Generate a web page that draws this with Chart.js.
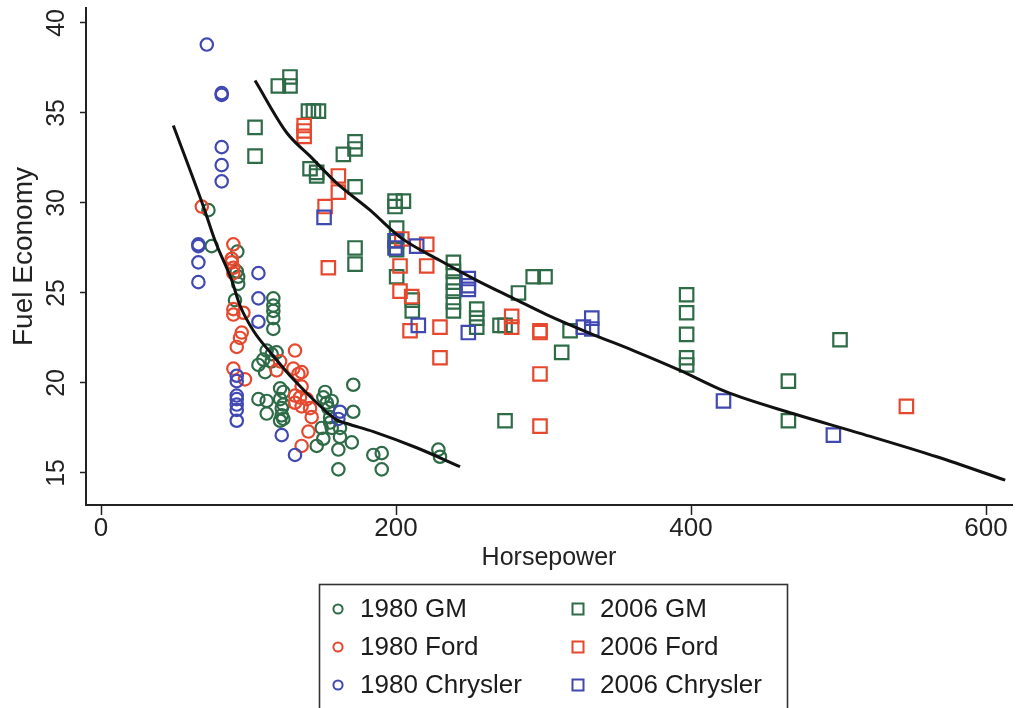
<!DOCTYPE html>
<html><head><meta charset="utf-8">
<script src="https://cdn.jsdelivr.net/npm/chart.js@4.4.1/dist/chart.umd.min.js"></script>
<style>html,body{margin:0;padding:0;background:#fff;} canvas{display:block;}</style>
</head><body>
<canvas id="c" width="1016" height="708"></canvas>
<script>
// ---------------- data ----------------
const seriesNames = ['1980 GM', '2006 GM', '1980 Ford', '2006 Ford', '1980 Chrysler', '2006 Chrysler'];
const xTicks = [0, 200, 400, 600];
const yTicks = [15, 20, 25, 30, 35, 40];

const gm1980HP  = [72.8,75,92.4,92,93,93,90.8,116.8,116.8,116.8,116.8,116.8,112.3,115.7,110,106.7,111.2,115.7,119,121.4,123.6,106.7,112.3,112.3,121.4,122.5,122.5,123.6,121.4,123.6,151.9,150.7,156.4,154.1,153,155.3,155.3,156.4,162,162,149.6,150.7,146.2,171,171,170,160.9,160.9,184.6,190.3,190.3,228.7,229.8];
const gm1980MPG = [29.6,27.6,27.3,26.2,25.9,25.5,24.6,24.7,24.3,24.0,23.6,23.0,21.8,21.6,21.3,21.0,20.6,21.2,21.7,19.7,19.5,19.1,19.0,18.3,19.1,18.6,18.2,18.0,17.9,18.8,19.5,19.2,19.0,18.6,18.9,18.1,17.8,17.5,17.5,17.0,17.5,16.9,16.5,19.9,18.4,16.7,16.3,15.2,16.0,16.1,15.2,16.3,15.9];

const ford1980HP  = [68.3,89.7,88.6,88.6,89.7,89.7,89.7,89.7,96.5,95.4,94.2,92,89.7,97.6,131.5,121.4,119,130.4,136,133.8,136,131.5,134.9,131.5,139.5,141.7,136,142.8,140.6,136];
const ford1980MPG = [29.8,27.7,26.9,26.7,26.4,26.1,24.1,23.8,23.9,22.8,22.5,22.0,20.8,20.2,21.8,21.2,20.7,20.8,20.6,20.5,19.8,19.3,19.2,18.9,19.1,18.6,18.7,18.1,17.3,16.5];

const chry1980HP  = [71.7,81.8,81.8,81.8,81.8,81.8,66,66,66,66,106.7,106.7,106.7,92,92,92,92,92,92,92,122.5,131.5,162,160.9];
const chry1980MPG = [38.8,36.1,36.0,33.1,32.1,31.2,27.7,27.6,26.7,25.6,26.1,24.7,23.4,20.4,20.1,19.3,19.1,18.8,18.5,17.9,17.1,16.0,18.4,18.0];

const gm2006HP  = [104.4,104.4,120.2,128.1,128.1,140.6,144,147.4,141.7,146.2,146.2,164.3,172.2,172.2,172.2,199.3,205,199.3,200.4,200.4,200.4,172.2,172.2,200.4,211,211,238.9,238.9,238.9,238.9,238.9,238.9,254.7,254.7,254.7,270.5,293,301,283,273.9,318,312.3,273.9,397,397,397,397,397,466,466,501];
const gm2006MPG = [34.2,32.6,36.5,36.5,37.0,35.1,35.1,35.1,31.9,31.7,31.5,32.7,33.0,33.4,30.9,30.1,30.1,29.8,28.6,27.9,27.4,27.5,26.6,25.9,24.6,24.0,26.7,26.2,25.6,25.1,24.5,24.0,24.1,23.6,23.1,23.2,25.9,25.9,25.0,23.2,22.9,21.7,17.9,24.9,23.9,22.7,21.4,21.0,20.1,17.9,22.4];

const ford2006HP  = [137.7,137.7,137.7,160.9,160.9,151.9,154.1,203.9,220.8,202.7,220.8,202.7,210.6,209.5,229.8,229.8,278.4,278.4,297.6,297.6,297.6,297.6,546];
const ford2006MPG = [34.3,34.0,33.7,31.5,30.6,29.8,26.4,28.0,27.7,26.5,26.5,25.1,24.8,22.9,23.1,21.4,23.7,23.1,22.9,22.8,20.5,17.6,18.7];

const chry2006HP  = [151.2,199.3,199.3,214,215.1,249,249,249,249,327,332.7,332.7,422,496.5];
const chry2006MPG = [29.2,27.9,27.5,27.6,23.2,25.8,25.4,25.2,22.8,23.1,23.6,23.0,19.0,17.1];

// smoothed (lowess) fit lines
const fit1980HP  = [49,69.4,77.3,88.6,94.2,103.3,116.8,130.4,146.2,159.8,166.6,184.6,214,243.4];
const fit1980MPG = [34.3,29.8,27.9,25.7,24.3,22.9,21.5,20.2,18.9,17.95,17.75,17.3,16.4,15.35];
const fit2006HP  = [104.4,125.9,141.7,159.8,182.4,202.7,229.8,254.7,279.5,302,331.5,360.9,392.5,424,469,514.6,566.6,613];
const fit2006MPG = [36.8,33.9,32.6,31.1,29.6,28.1,26.8,25.7,24.7,23.8,22.76,21.8,20.7,19.5,18.3,17.2,15.9,14.6];

// ---------------- styles ----------------
const GREEN = '#2e6b47', RED = '#e6482e', BLUE = '#4048b2';
const pts = (xs, ys) => xs.map((x, i) => ({x: x, y: ys[i]}));

function fontAvailable(name) {
  const c = document.createElement('canvas').getContext('2d');
  const s = 'Horsepower 0123456789 mmmWWWiii';
  c.font = '40px monospace'; const w1 = c.measureText(s).width;
  c.font = '40px "' + name + '", monospace'; const w2 = c.measureText(s).width;
  c.font = '40px serif'; const w3 = c.measureText(s).width;
  c.font = '40px "' + name + '", serif'; const w4 = c.measureText(s).width;
  return w1 !== w2 || w3 !== w4;
}
const HAS_NARROW = fontAvailable('Liberation Sans Narrow') || fontAvailable('Arial Narrow');
const SANS = "'Liberation Sans',Arial,Helvetica,sans-serif";
const AXF = HAS_NARROW ? "'Liberation Sans Narrow','Arial Narrow',sans-serif" : SANS;
const xTickSize = HAS_NARROW ? 29 : 26;
const yTickSize = HAS_NARROW ? 28 : 25;
const xTitleSize = HAS_NARROW ? 29 : 25;

function scatterDs(label, xs, ys, color, style, order) {
  const circle = style === 'circle';
  const r = circle ? 6.2 : 9.5;
  return {
    type: 'scatter', label: label, data: pts(xs, ys),
    pointStyle: style, pointRadius: r, pointHoverRadius: r,
    borderColor: color, backgroundColor: 'rgba(0,0,0,0)', pointBorderWidth: 2.2, borderWidth: 2.2,
    order: order, clip: false
  };
}
function lineDs(label, xs, ys) {
  return {
    type: 'line', label: label, data: pts(xs, ys), showLine: true,
    borderColor: '#111', borderWidth: 3, pointRadius: 0, fill: false,
    cubicInterpolationMode: 'monotone', order: 0
  };
}

const legendItems = [
  {label: seriesNames[0], color: GREEN, style: 'circle'},
  {label: seriesNames[1], color: GREEN, style: 'rect'},
  {label: seriesNames[2], color: RED, style: 'circle'},
  {label: seriesNames[3], color: RED, style: 'rect'},
  {label: seriesNames[4], color: BLUE, style: 'circle'},
  {label: seriesNames[5], color: BLUE, style: 'rect'}
];

const boxLegend = {
  id: 'boxLegend',
  afterDraw(chart) {
    const ctx = chart.ctx;
    ctx.save();
    ctx.strokeStyle = '#333';
    ctx.lineWidth = 1.6;
    ctx.strokeRect(319.5, 584.5, 468, 140);
    const colX = [338, 578], textX = [360, 600], rowY = [609, 647, 685];
    ctx.font = '26px ' + SANS;
    ctx.textBaseline = 'middle';
    ctx.textAlign = 'left';
    legendItems.forEach((it, i) => {
      const c = i % 2, r = Math.floor(i / 2);
      const x = colX[c], y = rowY[r];
      ctx.strokeStyle = it.color;
      ctx.lineWidth = 2;
      ctx.beginPath();
      if (it.style === 'circle') ctx.arc(x, y, 4.6, 0, Math.PI * 2);
      else ctx.rect(x - 5.5, y - 5.5, 11, 11);
      ctx.stroke();
      ctx.fillStyle = '#1c1c1c';
      ctx.fillText(it.label, textX[c], y + 1);
    });
    ctx.restore();
  }
};

new Chart(document.getElementById('c'), {
  type: 'scatter',
  data: {
    datasets: [
      lineDs('fit 1980', fit1980HP, fit1980MPG),
      lineDs('fit 2006', fit2006HP, fit2006MPG),
      scatterDs(seriesNames[0], gm1980HP, gm1980MPG, GREEN, 'circle', 3),
      scatterDs(seriesNames[2], ford1980HP, ford1980MPG, RED, 'circle', 2),
      scatterDs(seriesNames[4], chry1980HP, chry1980MPG, BLUE, 'circle', 1),
      scatterDs(seriesNames[1], gm2006HP, gm2006MPG, GREEN, 'rect', 3),
      scatterDs(seriesNames[3], ford2006HP, ford2006MPG, RED, 'rect', 2),
      scatterDs(seriesNames[5], chry2006HP, chry2006MPG, BLUE, 'rect', 1)
    ]
  },
  options: {
    responsive: false, animation: false, devicePixelRatio: 1,
    layout: {autoPadding: false, padding: {left: 0, right: 4, top: 8, bottom: 133}},
    plugins: {legend: {display: false}, tooltip: {enabled: false}},
    scales: {
      x: {
        type: 'linear', position: 'bottom', min: -10.2, max: 617.6,
        afterBuildTicks: s => { s.ticks = xTicks.map(v => ({value: v})); },
        afterFit: s => { s.height = 70; s.paddingLeft = 0; s.paddingRight = 0; },
        grid: {display: true, drawOnChartArea: false, drawTicks: true, tickLength: 10, tickColor: '#222', tickWidth: 1.5},
        border: {display: true, color: '#222', width: 2},
        ticks: {color: '#222', padding: 1, maxRotation: 0, autoSkip: false, font: {family: AXF, size: xTickSize, lineHeight: 1}},
        title: {display: true, text: 'Horsepower', color: '#222', padding: {top: 0, bottom: 2}, font: {family: AXF, size: xTitleSize, lineHeight: 1.2}}
      },
      y: {
        type: 'linear', position: 'left', min: 13.22, max: 40.83,
        afterBuildTicks: s => { s.ticks = yTicks.map(v => ({value: v})); },
        afterFit: s => { s.width = 86; s.paddingTop = 0; s.paddingBottom = 0; },
        grid: {display: true, drawOnChartArea: false, drawTicks: true, tickLength: 6, tickColor: '#222', tickWidth: 1.5},
        border: {display: true, color: '#222', width: 2},
        ticks: {color: '#222', padding: 9, minRotation: 90, maxRotation: 90, crossAlign: 'center', autoSkip: false, font: {family: AXF, size: yTickSize, lineHeight: 1}},
        title: {display: true, text: 'Fuel Economy', color: '#222', padding: {top: 7, bottom: 0}, font: {family: SANS, size: 28, lineHeight: 1.2}}
      }
    }
  },
  plugins: [boxLegend]
});
</script>
</body></html>
